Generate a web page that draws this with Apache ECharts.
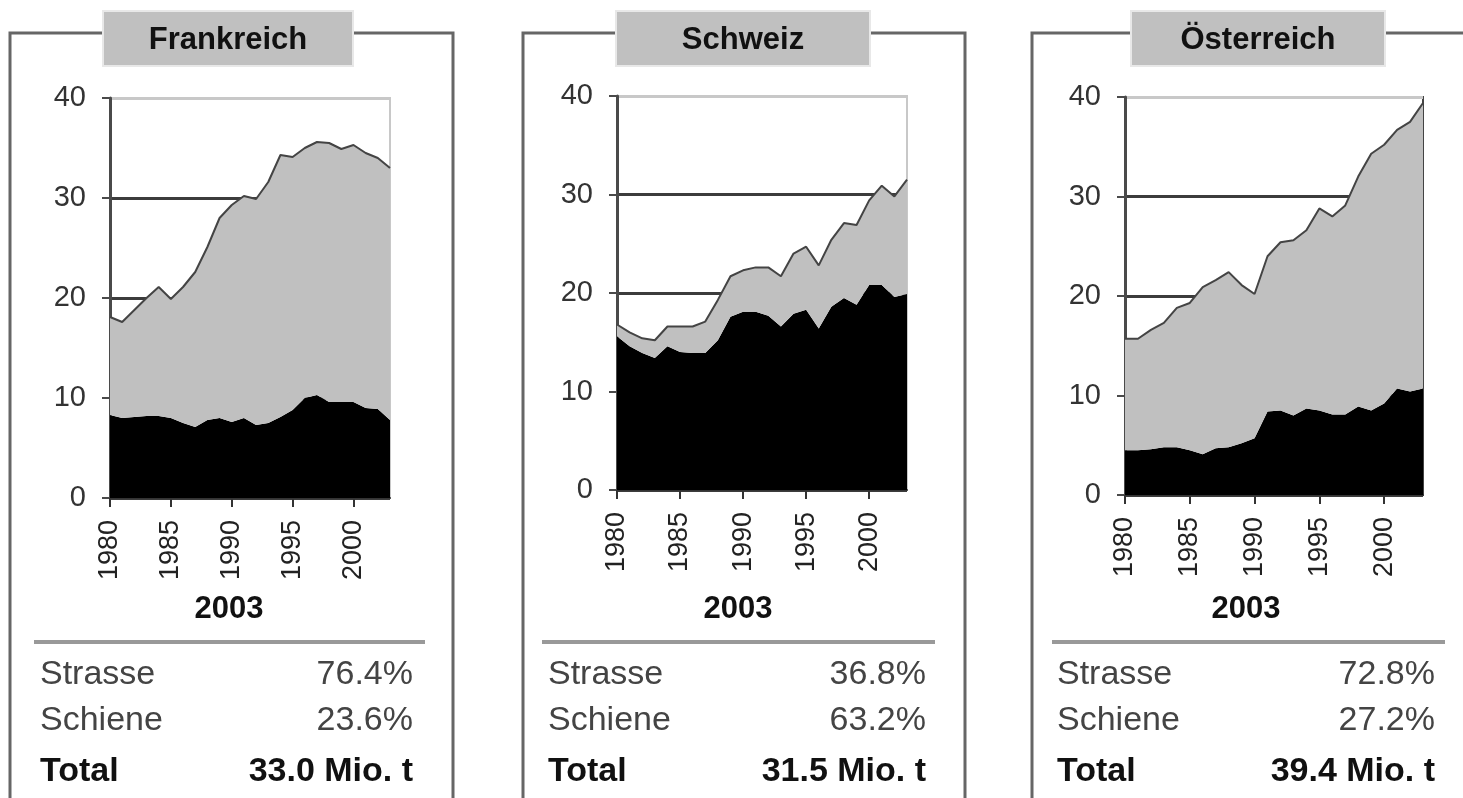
<!DOCTYPE html>
<html>
<head>
<meta charset="utf-8">
<script src="https://cdn.jsdelivr.net/npm/echarts@6/dist/echarts.min.js"></script>
<style>
  html, body { margin: 0; padding: 0; background: #fff; }
  #main { width: 1463px; height: 798px; }
</style>
</head>
<body>
<div id="main"></div>
<script>
// Gütertransport durch die Alpen, Mio. t
var years = ['1980','1981','1982','1983','1984','1985','1986','1987','1988','1989','1990','1991',
             '1992','1993','1994','1995','1996','1997','1998','1999','2000','2001','2002','2003'];

var frSchiene = [8.3, 8.0, 8.1, 8.2, 8.2, 8.0, 7.5, 7.1, 7.8, 8.0, 7.6, 8.0,
                 7.3, 7.5, 8.1, 8.8, 10.0, 10.3, 9.6, 9.6, 9.6, 9.0, 8.9, 7.8];
var frStrasse = [9.8, 9.6, 10.7, 11.8, 12.9, 11.9, 13.6, 15.5, 17.3, 20.0, 21.7, 22.2,
                 22.6, 24.1, 26.2, 25.3, 25.0, 25.3, 25.9, 25.3, 25.7, 25.5, 25.1, 25.2];

var chSchiene = [15.6, 14.6, 13.9, 13.4, 14.6, 14.0, 13.9, 13.9, 15.2, 17.6, 18.1, 18.1,
                 17.7, 16.6, 17.9, 18.3, 16.4, 18.6, 19.5, 18.8, 20.8, 20.8, 19.6, 19.9];
var chStrasse = [1.2, 1.4, 1.5, 1.8, 2.0, 2.6, 2.7, 3.2, 4.1, 4.1, 4.2, 4.5,
                 4.9, 5.1, 6.1, 6.4, 6.4, 6.8, 7.6, 8.1, 8.6, 10.1, 10.2, 11.6];

var atSchiene = [4.5, 4.5, 4.6, 4.8, 4.8, 4.5, 4.1, 4.7, 4.8, 5.2, 5.7, 8.4,
                 8.5, 8.0, 8.7, 8.5, 8.1, 8.1, 8.9, 8.5, 9.2, 10.7, 10.4, 10.7];
var atStrasse = [11.2, 11.2, 12.0, 12.5, 14.0, 14.8, 16.8, 16.9, 17.6, 15.9, 14.5, 15.6,
                 16.9, 17.6, 17.9, 20.3, 19.9, 21.0, 23.1, 25.8, 26.0, 26.0, 27.1, 28.7];

var countries = ['Frankreich', 'Schweiz', 'Österreich'];
var shareStrasse = ['76.4%', '36.8%', '72.8%'];
var shareSchiene = ['23.6%', '63.2%', '27.2%'];
var totals = ['33.0 Mio. t', '31.5 Mio. t', '39.4 Mio. t'];
var yearLabel = '2003';

var schieneData = [frSchiene, chSchiene, atSchiene];
var strasseData = [frStrasse, chStrasse, atStrasse];

// layout of the three panels
var panels = [
    {frame: [10, 453], title: [103, 353], grid: {left: 110, top: 98, width: 280, height: 400},
     sep: [34, 425], labelX: 40, valueX: 413, yearX: 229, rightBorder: '#c8c8c8'},
    {frame: [523, 965], title: [616, 870], grid: {left: 617, top: 96, width: 290, height: 394},
     sep: [542, 935], labelX: 548, valueX: 926, yearX: 738, rightBorder: '#c8c8c8'},
    {frame: [1032, 1480], title: [1131, 1385], grid: {left: 1125, top: 97, width: 298, height: 398},
     sep: [1052, 1445], labelX: 1057, valueX: 1435, yearX: 1246, rightBorder: '#444'}
];

var FONT = '"Liberation Sans", Arial, sans-serif';

var grids = [], xAxes = [], yAxes = [], series = [], graphics = [];

panels.forEach(function (p, i) {
    grids.push({
        left: p.grid.left, top: p.grid.top, width: p.grid.width, height: p.grid.height,
        show: true, borderColor: p.rightBorder, borderWidth: 2, backgroundColor: 'transparent'
    });
    xAxes.push({
        type: 'category', gridIndex: i, data: years, boundaryGap: false,
        axisLine: {lineStyle: {color: '#333', width: 2}},
        axisTick: {interval: 4, length: 9, lineStyle: {color: '#333', width: 2}},
        axisLabel: {interval: 4, rotate: 90, margin: 22, color: '#222', fontSize: 27, fontFamily: FONT},
        splitLine: {show: false}
    });
    yAxes.push({
        type: 'value', gridIndex: i, min: 0, max: 40, interval: 10,
        axisLine: {show: true, lineStyle: {color: '#4a4a4a', width: 3}},
        axisTick: {show: true, length: 8, lineStyle: {color: '#4a4a4a', width: 2}},
        axisLabel: {margin: 24, color: '#333', fontSize: 29, fontFamily: FONT},
        splitLine: {show: true, lineStyle: {color: ['#3c3c3c', '#3c3c3c', '#3c3c3c', '#3c3c3c', '#c8c8c8'], width: 3}}
    });
    series.push({
        name: 'Schiene', type: 'line', stack: 'p' + i, xAxisIndex: i, yAxisIndex: i,
        data: schieneData[i], symbol: 'none', lineStyle: {width: 0},
        areaStyle: {color: '#000', opacity: 1}
    });
    series.push({
        name: 'Strasse', type: 'line', stack: 'p' + i, xAxisIndex: i, yAxisIndex: i,
        data: strasseData[i], symbol: 'none', lineStyle: {color: '#444', width: 2},
        areaStyle: {color: '#c0c0c0', opacity: 1}
    });

    // frame, title box, separator, table
    graphics.push({
        type: 'rect', shape: {x: p.frame[0], y: 33, width: p.frame[1] - p.frame[0], height: 800},
        style: {fill: null, stroke: '#666', lineWidth: 3}, z: 1
    });
    graphics.push({
        type: 'rect', shape: {x: p.title[0], y: 11, width: p.title[1] - p.title[0], height: 55},
        style: {fill: '#c0c0c0', stroke: '#e8e8e8', lineWidth: 2}, z: 2
    });
    graphics.push({
        type: 'text', z: 3,
        style: {text: countries[i], x: (p.title[0] + p.title[1]) / 2, y: 40, align: 'center', verticalAlign: 'middle',
                font: 'bold 31px ' + FONT, fill: '#111'}
    });
    graphics.push({
        type: 'text', z: 3,
        style: {text: yearLabel, x: p.yearX, y: 609, align: 'center', verticalAlign: 'middle',
                font: 'bold 31px ' + FONT, fill: '#111'}
    });
    graphics.push({
        type: 'line', z: 3, shape: {x1: p.sep[0], y1: 642, x2: p.sep[1], y2: 642},
        style: {stroke: '#999', lineWidth: 4}
    });
    var rows = [
        ['Strasse', shareStrasse[i], 675, 'normal', '#444'],
        ['Schiene', shareSchiene[i], 721, 'normal', '#444'],
        ['Total', totals[i], 772, 'bold', '#111']
    ];
    rows.forEach(function (r) {
        graphics.push({
            type: 'text', z: 3,
            style: {text: r[0], x: p.labelX, y: r[2], align: 'left', verticalAlign: 'middle',
                    font: r[3] + ' 34px ' + FONT, fill: r[4]}
        });
        graphics.push({
            type: 'text', z: 3,
            style: {text: r[1], x: p.valueX, y: r[2], align: 'right', verticalAlign: 'middle',
                    font: r[3] + ' 34px ' + FONT, fill: r[4]}
        });
    });
});

var chart = echarts.init(document.getElementById('main'));
chart.setOption({
    backgroundColor: '#fff',
    animation: false,
    grid: grids,
    xAxis: xAxes,
    yAxis: yAxes,
    series: series,
    graphic: graphics
});
</script>
</body>
</html>
